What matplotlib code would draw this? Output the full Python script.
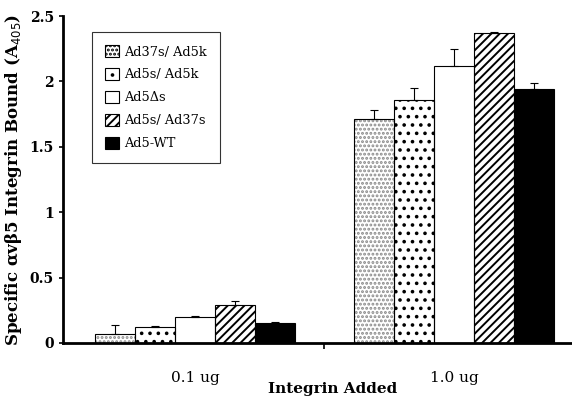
import numpy as np
import matplotlib
matplotlib.use("Agg")
import matplotlib.pyplot as plt
from matplotlib.ticker import FixedLocator

plt.rcParams["font.family"] = ["DejaVu Serif"]
plt.rcParams["hatch.linewidth"] = 1.4

# data
groups = ["0.1 ug", "1.0 ug"]
series = ["Ad37s/ Ad5k", "Ad5s/ Ad5k", "Ad5\u0394s", "Ad5s/ Ad37s", "Ad5-WT"]
means = [
    [0.07, 1.71],   # Ad37s/Ad5k
    [0.12, 1.86],   # Ad5s/Ad5k
    [0.20, 2.12],   # Ad5ds
    [0.29, 2.37],   # Ad5s/Ad37s
    [0.15, 1.94],   # Ad5-WT
]
errors = [
    [0.07, 0.07],
    [0.01, 0.09],
    [0.005, 0.13],
    [0.03, 0.005],
    [0.01, 0.05],
]

faces = ["white", "white", "white", "white", "black"]
hatches = ["....", "..", None, "////", None]
hatch_cols = ["#8a8a8a", "black", "black", "black", "black"]

fig = plt.figure(figsize=(5.72, 4.0), dpi=100)
ax = fig.add_axes([0.110, 0.1425, 0.89, 0.8175])

x = np.arange(len(groups))
w = 0.154
for i, name in enumerate(series):
    pos = x + (i - 2) * w
    # hatch colour follows edgecolor, so fill + hatch first, outline on top
    ax.bar(pos, means[i], w, color=faces[i], edgecolor=hatch_cols[i], lw=0,
           hatch=hatches[i], label=name, zorder=2)
    ax.bar(pos, means[i], w, fill=False, edgecolor="black", lw=0.8, zorder=2.5)
    ax.errorbar(pos, means[i], yerr=[np.zeros(len(groups)), errors[i]],
                fmt="none", ecolor="black", elinewidth=0.8, capsize=3,
                capthick=0.8, zorder=3)

ax.set_xlim(-0.51, 1.456)
ax.set_ylim(0, 2.5)
ax.set_yticks([0, 0.5, 1, 1.5, 2, 2.5])
ax.set_yticklabels(["0", "0.5", "1", "1.5", "2", "2.5"], fontweight="bold", fontsize=10)
ax.set_xticks(x)
ax.set_xticklabels(groups, fontsize=11)
ax.tick_params(axis="x", which="major", length=0, pad=20)
ax.xaxis.set_minor_locator(FixedLocator([0.5]))
ax.tick_params(axis="x", which="minor", length=4, width=1.2, direction="out")
ax.tick_params(axis="y", length=3, width=1.2, direction="out")

for s in ["top", "right"]:
    ax.spines[s].set_visible(False)
for s in ["left", "bottom"]:
    ax.spines[s].set_linewidth(2)

ax.set_ylabel("Specific \u03b1v\u03b25 Integrin Bound (A$_{405}$)",
              fontweight="bold", fontsize=12, labelpad=4)
ax.set_xlabel("Integrin Added", fontweight="bold", fontsize=11)
ax.xaxis.set_label_coords(0.53, -0.118)

leg = ax.legend(loc="upper left", bbox_to_anchor=(0.057, 0.951), borderaxespad=0,
                fontsize=9.3, frameon=True, fancybox=False, edgecolor="black",
                handlelength=1.1, handleheight=1.1, labelspacing=0.72,
                borderpad=1.0, handletextpad=0.4)
leg.get_frame().set_linewidth(0.8)
for h in leg.legend_handles:
    h.set_linewidth(0.8)
    h.set_edgecolor("black")

fig.savefig("out.png", dpi=100)
